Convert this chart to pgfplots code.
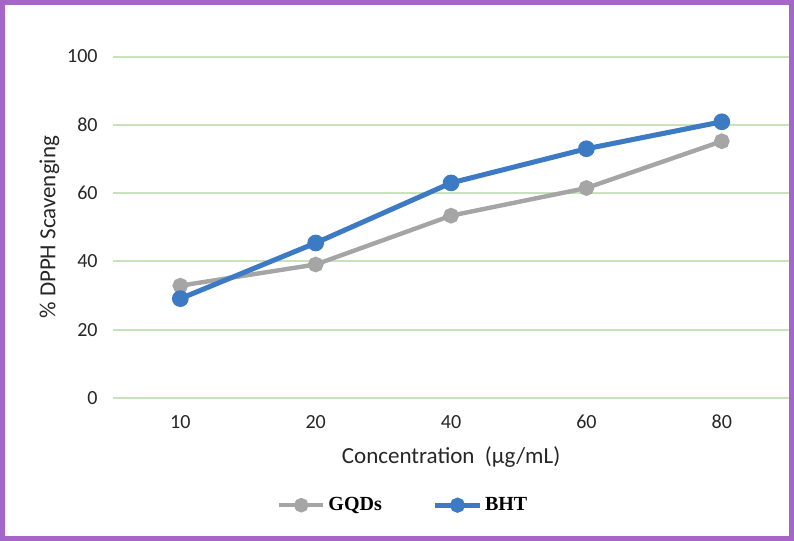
\documentclass[border=0pt]{standalone}
\usepackage{pgfplots}
\pgfplotsset{compat=1.18}
\usepackage{fontspec}
\setmainfont{Carlito}
\newfontfamily\legfont{Liberation Serif}

\definecolor{gqd}{HTML}{A5A5A5}
\definecolor{bht}{HTML}{3C7AC4}
\definecolor{gridgreen}{HTML}{C8E2BE}
\definecolor{frame}{HTML}{A566C8}

\begin{document}
\begin{tikzpicture}
\begin{axis}[
    scale only axis,
    width=338pt,
    height=170.5pt,
    xmin=-0.5, xmax=4.5,
    ymin=0, ymax=100,
    axis line style={draw=none},
    xtick={0,1,2,3,4},
    xticklabels={10,20,40,60,80},
    ytick={0,20,...,100},
    ymajorgrids,
    grid style={gridgreen, line width=1pt},
    major tick length=0pt,
    tick label style={font=\fontsize{10}{12}\selectfont, text=black!85},
    /pgf/number format/assume math mode=true,
    xticklabel style={yshift=-5pt},
    yticklabel style={xshift=-4pt},
    xlabel={Concentration\ \ (µg/mL)},
    ylabel={\% DPPH Scavenging},
    label style={font=\fontsize{11.5}{13}\selectfont, text=black!85},
    xlabel style={yshift=-2pt},
    ylabel style={yshift=-3pt},
    legend style={
        at={(0.43,-0.314)}, anchor=center,
        draw=none, fill=none,
        legend columns=2,
        font=\legfont\bfseries\fontsize{10}{12}\selectfont,
        /tikz/every even column/.append style={column sep=24pt},
        nodes={inner xsep=1.5pt}
    },
    legend image code/.code={
        \draw[#1] (0pt,0pt) -- (22pt,0pt);
        \fill[#1] (11pt,0pt) circle (2.5pt);
    },
    clip=false
]
\addplot[gqd, line width=2.2pt, mark=*, mark size=2.8pt] coordinates {
    (0,32.9) (1,39.1) (2,53.4) (3,61.5) (4,75.2)
};
\addplot[bht, line width=2.5pt, mark=*, mark size=2.9pt] coordinates {
    (0,29.1) (1,45.4) (2,63.0) (3,73.0) (4,80.9)
};
\legend{GQDs, BHT}
\draw[frame, line width=2.5pt]
    ([xshift=-55pt, yshift=-70pt]current axis.south west) rectangle
    ([xshift=1pt, yshift=27pt]current axis.north east);
\end{axis}
\end{tikzpicture}
\end{document}
